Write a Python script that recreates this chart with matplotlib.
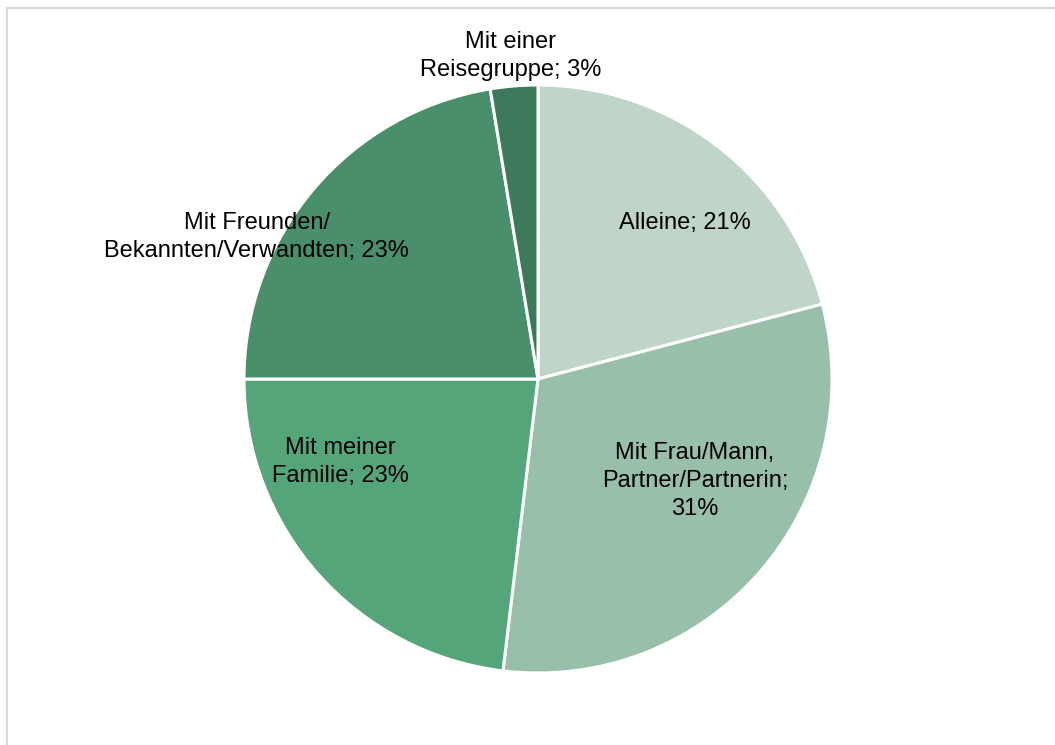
import numpy as np
import matplotlib.pyplot as plt
from matplotlib.patches import Rectangle

plt.rcParams['font.family'] = ['Liberation Sans', 'DejaVu Sans']

labels = ["Alleine; 21%", "Mit Frau/Mann,\nPartner/Partnerin;\n31%", "Mit meiner\nFamilie; 23%",
          "Mit Freunden/\nBekannten/Verwandten; 23%", "Mit einer\nReisegruppe; 3%"]
shares = [20.9, 31.0, 23.1, 22.4, 2.6]
colors = ["#BFD5C8", "#97BFA9", "#55A57B", "#4A8F6C", "#3C7A5B"]

# label offsets (in pie radius units, relative to centre)
label_xy = [(0.50, 0.53), (0.534, -0.347), (-0.673, -0.282), (-0.956, 0.483), (-0.092, 1.099)]

W, H = 1055, 745
cx, cy, R = 538, 379, 294

fig = plt.figure(figsize=(W / 100, H / 100), dpi=100)
fig.patches.append(Rectangle((7 / W, -0.1), 1.2, 1 - 8 / H + 0.1, transform=fig.transFigure,
                             fill=False, edgecolor="#D9D9D9", linewidth=1.5))

ax = fig.add_axes([(cx - R) / W, (H - cy - R) / H, 2 * R / W, 2 * R / H])
ax.pie(shares, colors=colors, startangle=90, counterclock=False,
       wedgeprops=dict(edgecolor="white", linewidth=2.2))
ax.set_xlim(-1, 1)
ax.set_ylim(-1, 1)
ax.set_aspect("equal")
ax.axis("off")

for lab, (x, y) in zip(labels, label_xy):
    ax.text(x, y, lab, ha="center", va="center", fontsize=17, linespacing=1.38,
            color="black", clip_on=False)

fig.savefig("out.png", dpi=100)
